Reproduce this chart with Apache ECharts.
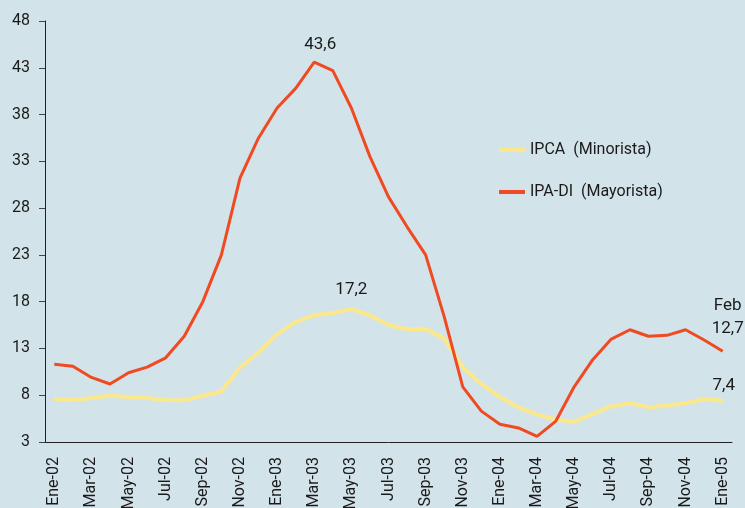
<!DOCTYPE html>
<html>
<head>
<meta charset="utf-8">
<script src="https://cdn.jsdelivr.net/npm/echarts@6/dist/echarts.min.js"></script>
<style>
  html, body { margin: 0; padding: 0; background: #d3e3ea; }
  #main { width: 745px; height: 508px; }
</style>
</head>
<body>
<div id="main"></div>
<script>
// monthly categories Ene-02 .. Ene-05
const months = ['Ene', 'Feb', 'Mar', 'Abr', 'May', 'Jun', 'Jul', 'Ago', 'Sep', 'Oct', 'Nov', 'Dic']
const categories = []
for (let i = 0; i < 37; i++) {
  categories.push(months[i % 12] + '-0' + (2 + Math.floor(i / 12)))
}

const ipca = [7.6, 7.5, 7.7, 7.95, 7.8, 7.7, 7.5, 7.45, 7.95, 8.4, 10.95, 12.6,
  14.5, 15.85, 16.55, 16.8, 17.2, 16.55, 15.5, 15.05, 15.1, 14.05, 11.0, 9.2,
  7.8, 6.7, 5.95, 5.4, 5.15, 6.0, 6.8, 7.15, 6.7, 6.9, 7.15, 7.6, 7.4]

const ipaDi = [11.3, 11.1, 9.9, 9.2, 10.4, 11.0, 12.0, 14.3, 18.0, 23.0, 31.2, 35.5,
  38.7, 40.8, 43.6, 42.7, 38.7, 33.5, 29.2, 26.0, 23.0, 16.4, 8.9, 6.3,
  4.9, 4.5, 3.6, 5.2, 8.9, 11.8, 14.0, 15.0, 14.3, 14.4, 15.0, 13.9, 12.7]

const yTicks = { min: 3, max: 48, interval: 5 }

const fontFamily = 'Roboto'
const textColor = '#1a1a1a'

const fmt = v => String(v).replace('.', ',')

// build point data, attach the few value labels shown in the picture
function withLabels (values, labels) {
  return values.map((v, i) => {
    let l = labels[i]
    if (!l) return v
    return {
      value: v,
      label: Object.assign({
        show: true,
        position: 'top',
        color: textColor,
        fontFamily: fontFamily,
        fontSize: 17,
        formatter: fmt(v)
      }, l)
    }
  })
}

const last = ipca.length - 1

let ipcaLabels = {}
ipcaLabels[16] = { distance: 11 }
ipcaLabels[last] = { distance: 7, offset: [1, 0] }

let ipaLabels = {}
ipaLabels[14] = { distance: 9, offset: [6, 0] }
ipaLabels[last] = {
  distance: 11,
  offset: [5, 0],
  lineHeight: 23,
  formatter: 'Feb\n' + fmt(ipaDi[last])
}

let myChart = echarts.init(document.getElementById('main'))
let option = {
  backgroundColor: '#d3e3ea',
  animation: false,
  grid: {
    top: 21,
    left: 45,
    right: 13,
    bottom: 66,
    outerBoundsMode: 'none'
  },
  legend: {
    orient: 'vertical',
    left: 494,
    top: 137,
    padding: 5,
    icon: 'rect',
    itemWidth: 26,
    itemHeight: 4,
    itemGap: 26,
    textStyle: {
      fontFamily: fontFamily,
      fontSize: 16,
      color: textColor
    },
    data: ['IPCA  (Minorista)', 'IPA-DI  (Mayorista)']
  },
  xAxis: {
    type: 'category',
    boundaryGap: true,
    data: categories,
    axisLine: {
      lineStyle: { color: '#222', width: 1 }
    },
    axisTick: {
      interval: 1,
      length: 6,
      lineStyle: { color: '#222' }
    },
    axisLabel: {
      interval: 1,
      rotate: 90,
      margin: 15,
      color: textColor,
      fontFamily: fontFamily,
      fontSize: 16
    }
  },
  yAxis: {
    type: 'value',
    min: yTicks.min,
    max: yTicks.max,
    interval: yTicks.interval,
    splitLine: { show: false },
    axisLine: {
      show: true,
      lineStyle: { color: '#222', width: 1 }
    },
    axisTick: {
      show: true,
      length: 6,
      lineStyle: { color: '#444' }
    },
    axisLabel: {
      margin: 15,
      color: textColor,
      fontFamily: fontFamily,
      fontSize: 16
    }
  },
  series: [
    {
      name: 'IPCA  (Minorista)',
      type: 'line',
      symbol: 'circle',
      symbolSize: 0.01,
      showSymbol: true,
      color: '#fbe88c',
      lineStyle: { width: 4, color: '#fbe88c' },
      data: withLabels(ipca, ipcaLabels)
    },
    {
      name: 'IPA-DI  (Mayorista)',
      type: 'line',
      symbol: 'circle',
      symbolSize: 0.01,
      showSymbol: true,
      color: '#f04a22',
      lineStyle: { width: 3, color: '#f04a22' },
      data: withLabels(ipaDi, ipaLabels)
    }
  ]
}
myChart.setOption(option)
</script>
</body>
</html>
